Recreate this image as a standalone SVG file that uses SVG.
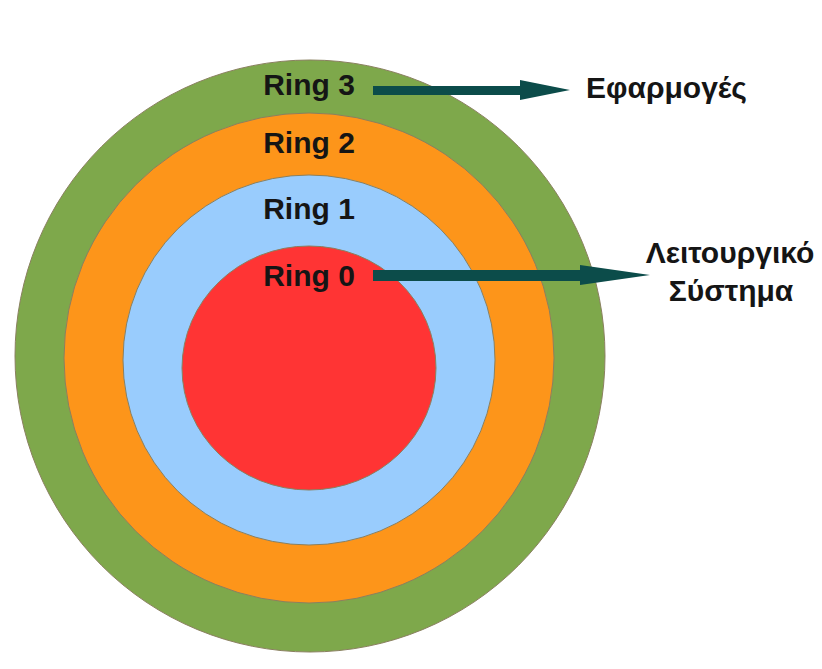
<svg xmlns="http://www.w3.org/2000/svg" width="822" height="669" viewBox="0 0 822 669">
<style>
.ring{stroke:#8a8060;stroke-width:1}
.lbl{font-family:"Liberation Sans",Arial,sans-serif;font-weight:bold;font-size:30px;fill:#151515}
.side{font-family:"Liberation Sans",Arial,sans-serif;font-weight:bold;font-size:30px;fill:#151515}
.arr{fill:#0c4c4a}
</style>
<rect width="822" height="669" fill="#ffffff"/>
<g id="ring3"><ellipse class="ring" cx="310" cy="356" rx="295" ry="296" fill="#7ea84b"/></g>
<g id="ring2"><ellipse class="ring" cx="309" cy="358" rx="245" ry="245" fill="#fd951a"/></g>
<g id="ring1"><ellipse class="ring" cx="309" cy="360" rx="186" ry="185" fill="#99ccfd"/></g>
<g id="ring0"><ellipse class="ring" cx="309" cy="368" rx="127" ry="122" fill="#ff3434"/></g>
<g id="labels">
<text class="lbl" x="309" y="95" text-anchor="middle">Ring 3</text>
<text class="lbl" x="309" y="153" text-anchor="middle">Ring 2</text>
<text class="lbl" x="309" y="219" text-anchor="middle">Ring 1</text>
<text class="lbl" x="309" y="286" text-anchor="middle">Ring 0</text>
</g>
<g id="connectors">
<polygon class="arr" points="373,86 520,86 520,80 570,90 520,100 520,95 373,95"/>
<polygon class="arr" points="373,270 580,270 580,265 650,275 580,285 580,281 373,281"/>
</g>
<g id="apps"><text class="side" x="586" y="98">Εφαρμογές</text></g>
<g id="os">
<text class="side" x="730" y="263" text-anchor="middle">Λειτουργικό</text>
<text class="side" x="731" y="301" text-anchor="middle">Σύστημα</text>
</g>
</svg>
